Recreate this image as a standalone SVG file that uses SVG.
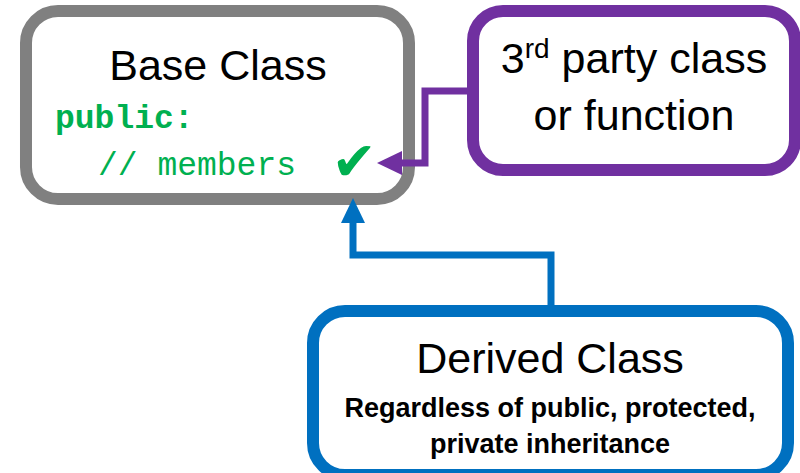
<svg xmlns="http://www.w3.org/2000/svg" width="800" height="473" viewBox="0 0 800 473">
<style>
.box{fill:#fff;stroke-width:12}
.title{font-family:"Liberation Sans",Arial,sans-serif;font-size:43px;fill:#000;text-anchor:middle}
.code{font-family:"Liberation Mono","Courier New",monospace;font-size:33px;fill:#00B050}
.sub{font-family:"Liberation Sans",Arial,sans-serif;font-size:27px;font-weight:bold;fill:#000;text-anchor:middle}
.conn{fill:none;stroke-width:7;stroke-linejoin:miter}
</style>
<defs>
<marker id="arrP" markerUnits="userSpaceOnUse" markerWidth="26" markerHeight="26" refX="0" refY="12" orient="auto" viewBox="0 0 26 24">
<path d="M0,0 L25,12 L0,24 z" fill="#7030A0"/>
</marker>
<marker id="arrB" markerUnits="userSpaceOnUse" markerWidth="26" markerHeight="26" refX="0" refY="12" orient="auto" viewBox="0 0 26 24">
<path d="M0,0 L25,12 L0,24 z" fill="#0070C0"/>
</marker>
</defs>
<g id="base">
<rect class="box" stroke="#808080" x="26" y="11" width="383" height="188" rx="32"/>
<text class="title" x="218" y="80">Base Class</text>
<text class="code" x="55" y="128" font-weight="bold">public:</text>
<text class="code" x="98" y="175">// members</text>
<text x="354" y="180" font-family="DejaVu Sans,sans-serif" font-size="54" fill="#00B050" text-anchor="middle">✔</text>
</g>
<g id="thirdparty">
<rect class="box" stroke="#7030A0" x="473" y="11" width="322" height="159" rx="30"/>
<text class="title" x="634" y="73">3<tspan font-size="28" dy="-15">rd</tspan><tspan dy="15"> party class</tspan></text>
<text class="title" x="634" y="130">or function</text>
</g>
<g id="derived">
<rect class="box" stroke="#0070C0" x="313" y="311" width="475" height="164" rx="32"/>
<text class="title" x="550" y="373">Derived Class</text>
<text class="sub" x="550" y="417">Regardless of public, protected,</text>
<text class="sub" x="550" y="453">private inheritance</text>
</g>
<g id="connectors">
<path class="conn" stroke="#7030A0" d="M473,91 H425 V163 H402" marker-end="url(#arrP)"/>
<path class="conn" stroke="#0070C0" d="M551,311 V255 H353 V223" marker-end="url(#arrB)"/>
</g>
</svg>
